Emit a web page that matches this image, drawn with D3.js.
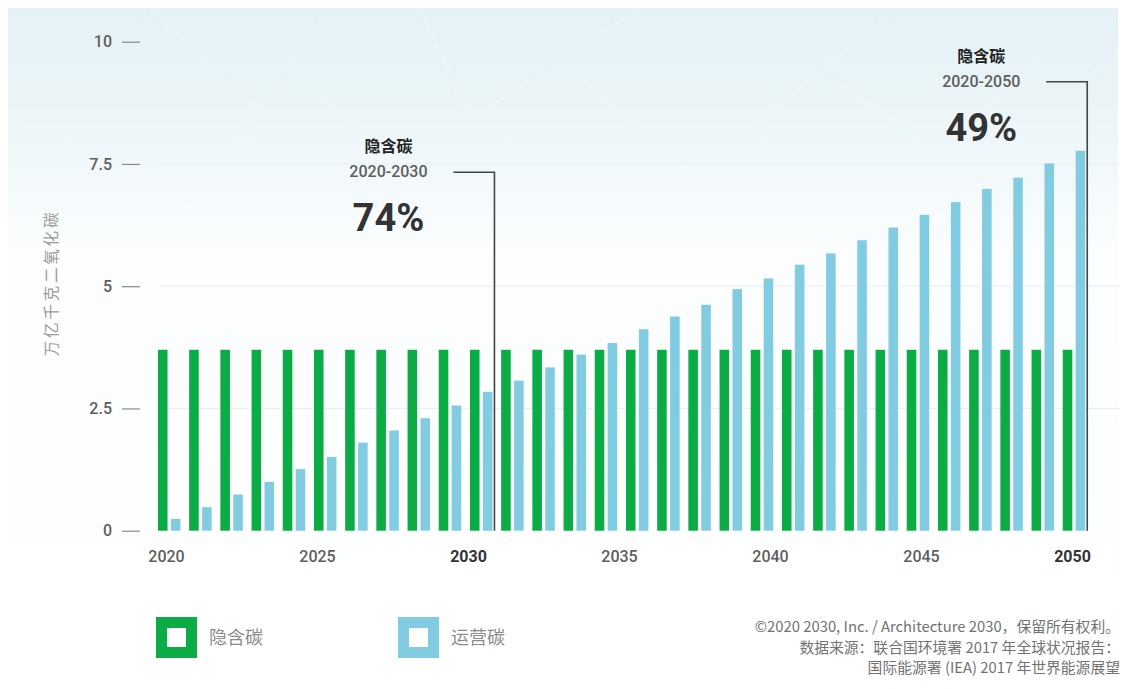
<!DOCTYPE html>
<html>
<head>
<meta charset="utf-8">
<script src="https://cdn.jsdelivr.net/npm/d3@7"></script>
<style>
  html, body { margin: 0; padding: 0; background: #ffffff; }
  svg { display: block; font-family: "Roboto", "Noto Sans CJK SC", sans-serif; }
</style>
</head>
<body>
<svg id="chart" width="1126" height="689"></svg>
<script>
// Bar categories (one pair of bars per period)
const periods = d3.range(2020, 2050).map(String);

// Embodied carbon (隐含碳), trillion kg CO2
const embodied = [3.7, 3.7, 3.7, 3.7, 3.7, 3.7, 3.7, 3.7, 3.7, 3.7,
                  3.7, 3.7, 3.7, 3.7, 3.7, 3.7, 3.7, 3.7, 3.7, 3.7,
                  3.7, 3.7, 3.7, 3.7, 3.7, 3.7, 3.7, 3.7, 3.7, 3.7];

// Operational carbon (运营碳), trillion kg CO2
const operational = [0.24, 0.48, 0.74, 1.00, 1.26, 1.51, 1.80, 2.05, 2.30, 2.56,
                     2.84, 3.07, 3.34, 3.60, 3.84, 4.12, 4.38, 4.62, 4.94, 5.16,
                     5.44, 5.67, 5.94, 6.20, 6.46, 6.72, 6.99, 7.22, 7.51, 7.77];

const seriesNames = ["隐含碳", "运营碳"];
const seriesColors = ["#0bab46", "#82cce2"];

const yTicks = [0, 2.5, 5, 7.5, 10];
const yTickLabels = ["0", "2.5", "5", "7.5", "10"];
const xTickYears = [2020, 2025, 2030, 2035, 2040, 2045, 2050];
const xBoldYears = [2030, 2050];

// Callouts: share of embodied carbon over each horizon
const calloutTitles = ["隐含碳", "隐含碳"];
const calloutRanges = ["2020-2030", "2020-2050"];
const calloutShares = ["74%", "49%"];
const calloutEnds = ["2030", "2049"];
const calloutLevels = [7.35, 9.2];

const yTitle = "万亿千克二氧化碳";
const creditLines = [
  "©2020 2030, Inc. / Architecture 2030，保留所有权利。",
  "数据来源：联合国环境署 2017 年全球状况报告：",
  "国际能源署 (IEA) 2017 年世界能源展望"
];

const svg = d3.select("#chart");
const W = 1126, H = 689;

// ---- background panel with a soft blue wash at the top ----
const defs = svg.append("defs");
const grad = defs.append("linearGradient")
  .attr("id", "bgwash").attr("x1", 0).attr("y1", 0).attr("x2", 0).attr("y2", 1);
grad.append("stop").attr("offset", "0%").attr("stop-color", "#e4f1f5");
grad.append("stop").attr("offset", "18%").attr("stop-color", "#edf6f9");
grad.append("stop").attr("offset", "36%").attr("stop-color", "#fbfdfe");
grad.append("stop").attr("offset", "100%").attr("stop-color", "#ffffff");

svg.append("rect").attr("x", 0).attr("y", 0).attr("width", W).attr("height", H).attr("fill", "#ffffff");
svg.append("rect").attr("x", 8).attr("y", 8).attr("width", 1110).attr("height", 675)
  .attr("fill", "url(#bgwash)");

// faint low-poly lines in the wash
const deco = svg.append("g").attr("stroke", "#ffffff").attr("stroke-width", 1)
  .attr("opacity", 0.35).attr("fill", "none");
[
  [[150, 8], [260, 110]], [[260, 110], [330, 8]], [[260, 110], [170, 230]],
  [[160, 8], [100, 60]], [[320, 95], [470, 230]], [[420, 8], [470, 120]],
  [[470, 120], [560, 60]], [[560, 60], [640, 8]], [[560, 60], [700, 180]],
  [[700, 180], [820, 70]], [[820, 70], [900, 8]], [[820, 70], [940, 150]],
  [[940, 150], [1060, 40]], [[1060, 40], [1118, 90]], [[8, 120], [120, 160]]
].forEach(s => deco.append("line")
  .attr("x1", s[0][0]).attr("y1", s[0][1]).attr("x2", s[1][0]).attr("y2", s[1][1]));

// ---- scales ----
const y = d3.scaleLinear().domain([0, 10]).range([530.7, 41.7]);

const x = d3.scaleBand().domain(periods)
  .range([148.6, 1094.6]).paddingInner(0.279).paddingOuter(0.3);

const xSub = d3.scaleBand().domain(seriesNames)
  .range([0, x.bandwidth()]).paddingInner(0.26);

// year labels sit on their own evenly spaced axis
const xYear = d3.scaleLinear().domain([2020, 2050]).range([166, 1072]);

// ---- gridlines ----
svg.append("g").selectAll("line").data(yTicks.filter(d => d > 0)).join("line")
  .attr("x1", 160).attr("x2", 1120)
  .attr("y1", d => y(d)).attr("y2", d => y(d))
  .attr("stroke", "#e8eef1").attr("stroke-width", 1);

// ---- y axis ----
const yAxis = d3.axisLeft(y).tickValues(yTicks)
  .tickFormat((d, i) => yTickLabels[i]).tickSize(18).tickPadding(10);
const gy = svg.append("g").attr("transform", "translate(140,0)").call(yAxis);
gy.select(".domain").remove();
gy.selectAll(".tick line").attr("stroke", "#8a8a8a").attr("stroke-width", 1.2);
gy.selectAll(".tick text").attr("fill", "#5e5e5e").attr("font-size", 16)
  .attr("font-weight", 500).attr("font-family", "Roboto, sans-serif");

svg.append("text")
  .attr("transform", "translate(57,283) rotate(-90)")
  .attr("text-anchor", "middle")
  .attr("font-size", 15.5).attr("letter-spacing", 2.8)
  .attr("fill", "#9a9a9a")
  .attr("font-family", "'Noto Sans CJK SC', sans-serif")
  .text(yTitle);

// ---- x axis (labels only) ----
const xAxis = d3.axisBottom(xYear).tickValues(xTickYears)
  .tickFormat(d3.format("d")).tickSize(0).tickPadding(0);
const gx = svg.append("g").attr("transform", "translate(0,550)").call(xAxis);
gx.select(".domain").remove();
gx.selectAll(".tick text")
  .attr("font-size", 16).attr("font-family", "Roboto, sans-serif")
  .attr("dy", "0.75em")
  .attr("fill", d => xBoldYears.includes(d) ? "#333" : "#5e5e5e")
  .attr("font-weight", d => xBoldYears.includes(d) ? 700 : 500);

// ---- bars ----
const rows = periods.map((p, i) => ({ period: p, values: [embodied[i], operational[i]] }));
const groups = svg.append("g").selectAll("g").data(rows).join("g")
  .attr("transform", d => `translate(${x(d.period)},0)`);
groups.selectAll("rect")
  .data(d => d.values.map((v, k) => ({ key: seriesNames[k], value: v, k })))
  .join("rect")
  .attr("x", d => xSub(d.key))
  .attr("width", xSub.bandwidth())
  .attr("y", d => y(d.value))
  .attr("height", d => y(0) - y(d.value))
  .attr("fill", d => seriesColors[d.k]);

// ---- callouts ----
calloutEnds.forEach((end, i) => {
  const lx = x(end) + x.bandwidth() + 2;
  const ly = y(calloutLevels[i]);
  const cx = lx - 106;
  const g = svg.append("g");
  g.append("path")
    .attr("d", `M${lx - 41},${ly + 1}H${lx}V${y(0)}`)
    .attr("fill", "none").attr("stroke", "#444").attr("stroke-width", 1.6);
  g.append("text").attr("x", cx).attr("y", ly - 19)
    .attr("text-anchor", "middle").attr("font-size", 16).attr("font-weight", 700)
    .attr("fill", "#222").attr("font-family", "'Noto Sans CJK SC', sans-serif")
    .text(calloutTitles[i]);
  g.append("text").attr("x", cx).attr("y", ly + 6)
    .attr("text-anchor", "middle").attr("font-size", 16).attr("font-weight", 500)
    .attr("fill", "#5e5e5e").attr("font-family", "Roboto, sans-serif")
    .text(calloutRanges[i]);
  g.append("text").attr("x", cx).attr("y", ly + 60)
    .attr("text-anchor", "middle").attr("font-size", 38).attr("font-weight", 700)
    .attr("fill", "#333").attr("font-family", "Roboto, sans-serif")
    .text(calloutShares[i]);
});

// ---- legend ----
const legendX = [156, 398];
seriesNames.forEach((name, i) => {
  const g = svg.append("g").attr("transform", `translate(${legendX[i]},617)`);
  g.append("rect").attr("x", 5.5).attr("y", 5.5).attr("width", 30).attr("height", 30)
    .attr("fill", "#ffffff").attr("stroke", seriesColors[i]).attr("stroke-width", 11);
  g.append("text").attr("x", 53).attr("y", 21).attr("dy", "0.36em")
    .attr("font-size", 18).attr("fill", "#8c8c8c")
    .attr("font-family", "'Noto Sans CJK SC', sans-serif")
    .text(name);
});

// ---- credits ----
svg.append("g").selectAll("text").data(creditLines).join("text")
  .attr("x", 1120).attr("y", (d, i) => 632 + i * 20.5)
  .attr("text-anchor", "end").attr("font-size", 14.8)
  .attr("fill", "#727272")
  .attr("font-family", "'Noto Sans CJK SC', sans-serif")
  .text(d => d);
</script>
</body>
</html>
